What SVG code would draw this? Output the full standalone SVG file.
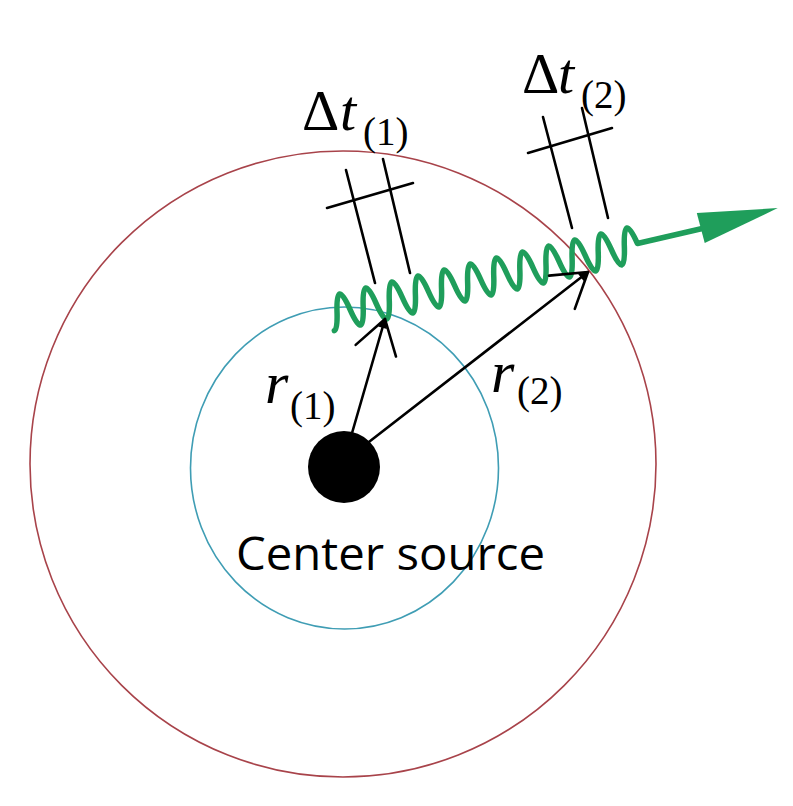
<svg xmlns="http://www.w3.org/2000/svg" width="793" height="806" viewBox="0 0 793 806">
<style>
.ink{stroke:#000;stroke-width:2.6;fill:none;stroke-linecap:round}
.math{font-family:"Liberation Serif","DejaVu Serif",serif;fill:#000}
.it{font-style:italic}
.lbl{font-family:"Open Sans","Liberation Sans",sans-serif;fill:#000}
</style>
<defs>
<marker id="openArrow" markerUnits="userSpaceOnUse" orient="auto" viewBox="-45 -30 50 60" refX="0" refY="0" markerWidth="50" markerHeight="60" overflow="visible">
<path d="M-33,-21 L0,0 L-33,21" fill="none" stroke="#000" stroke-width="2.6" stroke-linecap="round" stroke-linejoin="round"/>
<path d="M1,0 L-9,-4.5 L-9,4.5 Z" fill="#000"/>
</marker>
</defs>
<rect width="793" height="806" fill="#fff"/>
<g id="outer-circle"><circle cx="343" cy="464" r="313" fill="none" stroke="#a8434a" stroke-width="1.6"/></g>
<g id="inner-circle"><ellipse cx="344.5" cy="468" rx="154" ry="161" fill="none" stroke="#3f9db4" stroke-width="1.6"/></g>
<g id="center-source">
<circle cx="344" cy="467" r="36" fill="#000"/>
<text class="lbl" x="236" y="570" font-size="45" textLength="309" lengthAdjust="spacingAndGlyphs">Center source</text>
</g>
<g id="dt1-marks">
<line class="ink" x1="346" y1="170" x2="375" y2="283"/>
<line class="ink" x1="383" y1="159" x2="410" y2="273"/>
<line class="ink" x1="327" y1="208" x2="413" y2="183"/>
</g>
<g id="dt2-marks">
<line class="ink" x1="543" y1="117" x2="572" y2="228"/>
<line class="ink" x1="582" y1="108" x2="608" y2="218"/>
<line class="ink" x1="528" y1="153" x2="612" y2="128"/>
</g>
<g id="photon">
<g transform="translate(335,313) rotate(-12.95)">
<path d="M-4.6,17 Q-1.25,17 2.1,0 Q8.8,-35 15.5,0 T28.9,0 T42.3,0 T55.7,0 T69.1,0 T82.5,0 T95.9,0 T109.3,0 T122.7,0 T136.1,0 T149.5,0 T162.9,0 T176.3,0 T189.7,0 T203.1,0 T216.5,0 T229.9,0 T243.3,0 T256.7,0 T270.1,0 T283.5,0 T296.9,0 T310.3,0 L378,0" fill="none" stroke="#1f9e5b" stroke-width="5.5" stroke-linejoin="round" stroke-linecap="round"/>
<polygon points="375,-16.4 455,-3 376,14.7" fill="#1f9e5b"/>
</g>
</g>
<g id="connectors">
<line class="ink" x1="350" y1="440" x2="385" y2="319" marker-end="url(#openArrow)"/>
<line class="ink" x1="365" y1="445" x2="588" y2="272" marker-end="url(#openArrow)"/>
</g>
<g id="label-dt1">
<text class="math" x="302" y="130" font-size="58">Δ</text>
<text class="math it" x="340" y="130" font-size="58">t</text>
<text class="math" x="363" y="145" font-size="39">(1)</text>
</g>
<g id="label-dt2">
<text class="math" x="522" y="93" font-size="58">Δ</text>
<text class="math it" x="558" y="93" font-size="58">t</text>
<text class="math" x="581" y="108" font-size="39">(2)</text>
</g>
<g id="label-r1">
<text class="math it" x="265" y="403" font-size="60">r</text>
<text class="math" x="290" y="419" font-size="39">(1)</text>
</g>
<g id="label-r2">
<text class="math it" x="491" y="392" font-size="60">r</text>
<text class="math" x="517" y="404" font-size="39">(2)</text>
</g>
</svg>
